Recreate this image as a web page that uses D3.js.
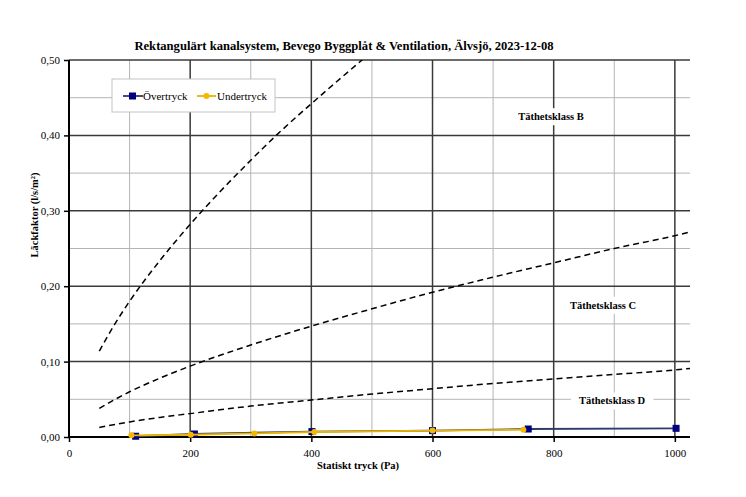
<!DOCTYPE html>
<html><head><meta charset="utf-8">
<script src="https://cdn.jsdelivr.net/npm/d3@7"></script>
<style>body{margin:0;background:#fff}svg{display:block}text{font-family:"Liberation Serif","Times New Roman",serif}</style>
</head><body>
<svg id="c" width="746" height="497"></svg>
<script>
const title = "Rektangulärt kanalsystem, Bevego Byggplåt & Ventilation, Älvsjö, 2023-12-08";
const xLabel = "Statiskt tryck (Pa)";
const yLabel = "Läckfaktor (l/s/m²)";
const xTicks = [0, 200, 400, 600, 800, 1000];
const yTicks = [0, 0.1, 0.2, 0.3, 0.4, 0.5];
const seriesNames = ["Övertryck", "Undertryck"];
const overP = [110, 207, 401, 600, 758, 1002];
const overV = [0.001, 0.004, 0.0072, 0.0085, 0.0106, 0.0115];
const underP = [103, 201, 306, 405, 600, 750];
const underV = [0.0022, 0.003, 0.0048, 0.0066, 0.0085, 0.0097];
const classBP = [50, 75, 100, 150, 200, 250, 300, 350, 400, 450, 500];
const classBV = [0.114, 0.149, 0.180, 0.234, 0.282, 0.326, 0.367, 0.406, 0.442, 0.477, 0.511];
const classCP = [50, 100, 150, 200, 300, 400, 500, 600, 700, 800, 900, 1000, 1025];
const classCV = [0.038, 0.060, 0.078, 0.094, 0.122, 0.147, 0.170, 0.192, 0.212, 0.231, 0.250, 0.267, 0.272];
const classDP = [50, 100, 150, 200, 300, 400, 500, 600, 700, 800, 900, 1000, 1025];
const classDV = [0.0127, 0.020, 0.026, 0.031, 0.041, 0.049, 0.057, 0.064, 0.071, 0.077, 0.083, 0.089, 0.091];
const classLabels = ["Täthetsklass B", "Täthetsklass C", "Täthetsklass D"];
const classLabelPos = [[551, 0.425], [603, 0.175], [612, 0.048]];

const svg = d3.select("#c");
const L = 69, R = 690, T = 60, B = 437;
const x = d3.scaleLinear().domain([0, 1025]).range([L, R]);
const y = d3.scaleLinear().domain([0, 0.5]).range([B, T]);

svg.append("defs").append("clipPath").attr("id", "clip")
  .append("rect").attr("x", L).attr("y", T).attr("width", R - L).attr("height", B - T);

// minor grid
const g = svg.append("g");
d3.range(100, 1025, 200).forEach(v => g.append("line").attr("x1", x(v)).attr("x2", x(v)).attr("y1", T).attr("y2", B).attr("stroke", "#b4b4b4").attr("stroke-width", 1));
d3.range(0.05, 0.5, 0.1).forEach(v => g.append("line").attr("x1", L).attr("x2", R).attr("y1", y(v)).attr("y2", y(v)).attr("stroke", "#b4b4b4").attr("stroke-width", 1));
// major grid
xTicks.slice(1).forEach(v => g.append("line").attr("x1", x(v)).attr("x2", x(v)).attr("y1", T).attr("y2", B).attr("stroke", "#3a3a3a").attr("stroke-width", 1.5));
yTicks.slice(1).forEach(v => g.append("line").attr("x1", L).attr("x2", R).attr("y1", y(v)).attr("y2", y(v)).attr("stroke", "#3a3a3a").attr("stroke-width", 1.5));

// class curves
const line = d3.line().x(d => x(d[0])).y(d => y(d[1])).curve(d3.curveMonotoneX);
[[classBP, classBV], [classCP, classCV], [classDP, classDV]].forEach(([P, V]) => {
  svg.append("path").attr("clip-path", "url(#clip)")
    .attr("d", line(P.map((p, i) => [p, V[i]])))
    .attr("fill", "none").attr("stroke", "#000").attr("stroke-width", 1.5)
    .attr("stroke-dasharray", "6,4");
});

// class labels with white background
classLabels.forEach((t, i) => {
  const [px, v] = classLabelPos[i];
  const tx = svg.append("text").attr("x", px).attr("y", y(v)).attr("dy", "0.35em")
    .attr("text-anchor", "middle").attr("font-size", 10.5).attr("font-weight", "bold").text(t);
  const bb = tx.node().getBBox();
  svg.insert("rect", () => tx.node()).attr("x", bb.x - 8).attr("y", bb.y - 3).attr("width", bb.width + 16).attr("height", bb.height + 6).attr("fill", "#fff");
});

// axes
const xAxis = svg.append("g").attr("transform", `translate(0,${B})`)
  .call(d3.axisBottom(x).tickValues(xTicks).tickSize(5).tickFormat(d3.format("d")));
xAxis.select(".domain").attr("stroke-width", 2).attr("d", `M${L},0H${R}`);
xAxis.selectAll(".tick line").attr("stroke-width", 1.5);
xAxis.selectAll("text").attr("font-size", 11).attr("dy", "1.1em").style("font-family", "Liberation Serif");

const yAxis = svg.append("g").attr("transform", `translate(${L},0)`)
  .call(d3.axisLeft(y).tickValues(yTicks).tickSize(5).tickFormat(d => d3.format(".2f")(d).replace(".", ",")));
yAxis.select(".domain").attr("stroke-width", 2).attr("d", `M0,${T}V${B}`);
yAxis.selectAll(".tick line").attr("stroke-width", 1.5);
yAxis.selectAll("text").attr("font-size", 11).attr("x", -9).style("font-family", "Liberation Serif");
xAxis.select(".domain").raise();

// series
const colors = ["#000080", "#f5b800"];
const lineColors = ["#2e3c68", "#eab400"];
const sl = d3.line().x(d => x(d[0])).y(d => y(d[1]));
const over = overP.map((p, i) => [p, overV[i]]);
const under = underP.map((p, i) => [p, underV[i]]);
svg.append("path").attr("d", sl(over)).attr("fill", "none").attr("stroke", lineColors[0]).attr("stroke-width", 1.8);
svg.selectAll(".sq").data(over).enter().append("rect")
  .attr("x", d => x(d[0]) - 3.5).attr("y", d => y(d[1]) - 3.5).attr("width", 7).attr("height", 7).attr("fill", colors[0]);
svg.append("path").attr("d", sl(under)).attr("fill", "none").attr("stroke", lineColors[1]).attr("stroke-width", 1.8);
svg.selectAll(".ci").data(under).enter().append("circle")
  .attr("cx", d => x(d[0])).attr("cy", d => y(d[1])).attr("r", 3).attr("fill", colors[1]);

// legend
const lg = svg.append("g");
lg.append("rect").attr("x", 112).attr("y", 79).attr("width", 163).attr("height", 33).attr("fill", "#fff").attr("stroke", "#c4c4c4");
lg.append("line").attr("x1", 123).attr("x2", 143).attr("y1", 96).attr("y2", 96).attr("stroke", lineColors[0]).attr("stroke-width", 1.8);
lg.append("rect").attr("x", 129).attr("y", 92.5).attr("width", 7).attr("height", 7).attr("fill", colors[0]);
lg.append("text").attr("x", 143).attr("y", 96).attr("dy", "0.35em").attr("font-size", 11).text(seriesNames[0]);
lg.append("line").attr("x1", 197).attr("x2", 216).attr("y1", 96).attr("y2", 96).attr("stroke", lineColors[1]).attr("stroke-width", 1.8);
lg.append("circle").attr("cx", 206.5).attr("cy", 96).attr("r", 3).attr("fill", colors[1]);
lg.append("text").attr("x", 217).attr("y", 96).attr("dy", "0.35em").attr("font-size", 11).text(seriesNames[1]);

// titles
svg.append("text").attr("x", 344).attr("y", 50).attr("text-anchor", "middle").attr("font-size", 12.6).attr("font-weight", "bold").text(title);
svg.append("text").attr("x", 358).attr("y", 469).attr("text-anchor", "middle").attr("font-size", 10.5).attr("font-weight", "bold").text(xLabel);
svg.append("text").attr("transform", "translate(38,215) rotate(-90)").attr("text-anchor", "middle").attr("font-size", 10.5).attr("font-weight", "bold").text(yLabel);
</script>
</body></html>
